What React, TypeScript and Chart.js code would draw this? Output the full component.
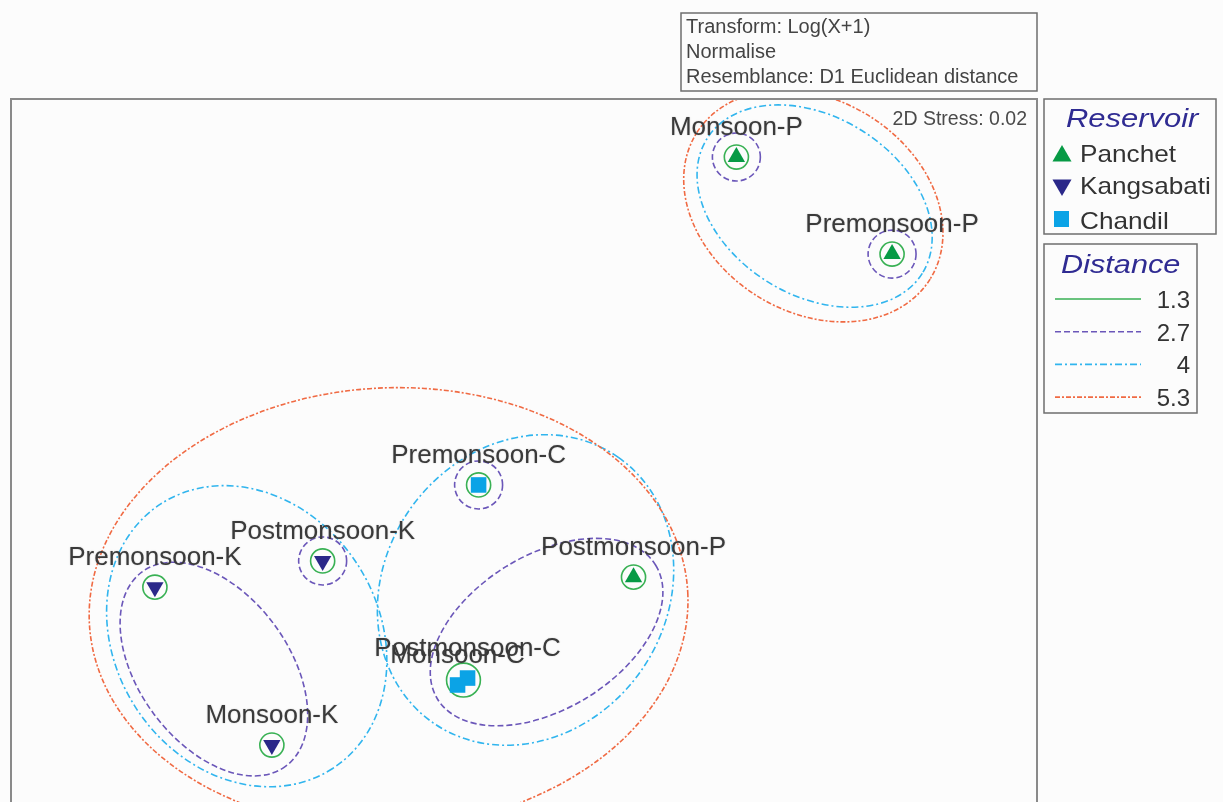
import React, { useEffect, useRef } from 'react';
import { Chart, registerables } from 'chart.js';

Chart.register(...registerables);

// ---------- data (NMDS coordinates) ----------
const reservoirNames = ['Panchet', 'Kangsabati', 'Chandil'];

const panchetLabels = ['Monsoon-P', 'Premonsoon-P', 'Postmonsoon-P'];
const panchetX = [0.828, 1.435, 0.427];
const panchetY = [1.174, 0.796, -0.462];

const kangsabatiLabels = ['Premonsoon-K', 'Postmonsoon-K', 'Monsoon-K'];
const kangsabatiX = [-1.439, -0.785, -0.983];
const kangsabatiY = [-0.501, -0.399, -1.116];

const chandilLabels = ['Premonsoon-C', 'Postmonsoon-C', 'Monsoon-C'];
const chandilX = [-0.177, -0.22, -0.259];
const chandilY = [-0.103, -0.855, -0.882];

const distanceLevels = [1.3, 2.7, 4, 5.3];
const distanceLabels = ['1.3', '2.7', '4', '5.3'];

// cluster contours (data units): level, centre, semi-axes, angle (deg, ccw)
const contourLevel = [1.3, 1.3, 1.3, 1.3, 1.3, 1.3, 1.3, 1.3, 2.7, 2.7, 2.7, 2.7, 2.7, 2.7, 4, 4, 4, 5.3, 5.3];
const contourX = [0.828, 1.435, 0.427, -1.439, -0.785, -0.983, -0.177, -0.236, 0.828, 1.435, -0.177, -0.785, -1.209, 0.088, 1.133, -1.081, 0.006, 1.128, -0.528];
const contourY = [1.174, 0.796, -0.462, -0.501, -0.399, -1.116, -0.103, -0.863, 1.174, 0.796, -0.103, -0.399, -0.82, -0.676, 0.983, -0.692, -0.512, 0.983, -0.582];
const contourRx = [0.047, 0.047, 0.047, 0.047, 0.047, 0.047, 0.047, 0.066, 0.0935, 0.0935, 0.0935, 0.0935, 0.471, 0.499, 0.495, 0.615, 0.631, 0.537, 1.168];
const contourRy = [0.047, 0.047, 0.047, 0.047, 0.047, 0.047, 0.047, 0.066, 0.0935, 0.0935, 0.0935, 0.0935, 0.292, 0.3, 0.347, 0.514, 0.549, 0.413, 0.857];
const contourAngle = [0, 0, 0, 0, 0, 0, 0, 0, 0, 0, 0, 0, -53.5, 31.5, -32, -57, 55, -32, 3];

const xRange = [-2, 2];
const yRange = [-1.4, 1.4];

const stressText = '2D Stress: 0.02';
const transformLines = ['Transform: Log(X+1)', 'Normalise', 'Resemblance: D1 Euclidean distance'];

// ---------- styles ----------
const FONT = "'Liberation Sans', Arial, sans-serif";
const reservoirColors = ['#079a45', '#2b2889', '#0ba3e6'];
const levelColors = ['#39b154', '#6b57b9', '#31b5ee', '#f06a43'];
const levelDash: number[][] = [[], [6, 3], [7, 3, 2, 3], [5, 2, 2, 2]];
const W = 1223;
const H = 840;

function drawTriangle(ctx: CanvasRenderingContext2D, x: number, y: number, r: number, down: boolean) {
  ctx.beginPath();
  const s = down ? -1 : 1;
  ctx.moveTo(x, y - s * r);
  ctx.lineTo(x + r * 0.866, y + s * r * 0.5);
  ctx.lineTo(x - r * 0.866, y + s * r * 0.5);
  ctx.closePath();
  ctx.fill();
}

function stretchText(ctx: CanvasRenderingContext2D, text: string, x: number, y: number, sx: number) {
  ctx.save();
  ctx.translate(x, y);
  ctx.scale(sx, 1);
  ctx.fillText(text, 0, 0);
  ctx.restore();
}

const contourPlugin = {
  id: 'contours',
  beforeDatasetsDraw(chart: any) {
    const { ctx, chartArea, scales } = chart;
    const xs = scales.x;
    const ys = scales.y;
    ctx.save();
    ctx.beginPath();
    ctx.rect(chartArea.left, chartArea.top, chartArea.right - chartArea.left, chartArea.bottom - chartArea.top);
    ctx.clip();
    for (let i = 0; i < contourLevel.length; i++) {
      const cx = xs.getPixelForValue(contourX[i]);
      const cy = ys.getPixelForValue(contourY[i]);
      const rx = Math.abs(xs.getPixelForValue(contourX[i] + contourRx[i]) - cx);
      const ry = Math.abs(ys.getPixelForValue(contourY[i] + contourRy[i]) - cy);
      const li = distanceLevels.indexOf(contourLevel[i]);
      ctx.strokeStyle = levelColors[li];
      ctx.setLineDash(levelDash[li]);
      ctx.lineWidth = 1.6;
      ctx.beginPath();
      ctx.ellipse(cx, cy, rx, ry, (-contourAngle[i] * Math.PI) / 180, 0, Math.PI * 2);
      ctx.stroke();
    }
    ctx.restore();
  },
  afterDatasetsDraw(chart: any) {
    const { ctx } = chart;
    const labelSets = [panchetLabels, kangsabatiLabels, chandilLabels];
    ctx.save();
    ctx.font = `26px ${FONT}`;
    ctx.fillStyle = '#3a3a3a';
    ctx.textAlign = 'center';
    ctx.textBaseline = 'alphabetic';
    ctx.shadowColor = 'rgba(0,0,0,0.25)';
    ctx.shadowBlur = 1.5;
    labelSets.forEach((labels, di) => {
      const meta = chart.getDatasetMeta(di);
      labels.forEach((lab, i) => {
        const el = meta.data[i];
        ctx.fillText(lab, el.x, el.y - 22);
      });
    });
    ctx.restore();
  },
  afterDraw(chart: any) {
    const { ctx, chartArea } = chart;
    ctx.save();
    // plot frame
    ctx.strokeStyle = '#8a8a8a';
    ctx.lineWidth = 2;
    ctx.setLineDash([]);
    ctx.strokeRect(chartArea.left, chartArea.top, chartArea.right - chartArea.left, chartArea.bottom - chartArea.top);

    // stress
    ctx.font = `19.5px ${FONT}`;
    ctx.fillStyle = '#4a4a4a';
    ctx.textAlign = 'right';
    ctx.textBaseline = 'alphabetic';
    ctx.fillText(stressText, chartArea.right - 10, chartArea.top + 26);

    // transform box
    ctx.strokeStyle = '#6e6e6e';
    ctx.lineWidth = 1.5;
    ctx.strokeRect(681, 13, 356, 78);
    ctx.font = `20px ${FONT}`;
    ctx.fillStyle = '#444';
    ctx.textAlign = 'left';
    transformLines.forEach((t, i) => ctx.fillText(t, 686, 33 + i * 25));

    // Reservoir legend
    ctx.strokeStyle = '#6e6e6e';
    ctx.strokeRect(1044, 99, 172, 135);
    ctx.font = `italic 26px ${FONT}`;
    ctx.fillStyle = '#2f2b92';
    stretchText(ctx, 'Reservoir', 1066, 127, 1.19);
    ctx.font = `24px ${FONT}`;
    reservoirNames.forEach((n, i) => {
      const cy = 155 + i * 32;
      ctx.fillStyle = reservoirColors[i];
      if (i === 0) drawTriangle(ctx, 1062, cy + 1, 11, false);
      else if (i === 1) drawTriangle(ctx, 1062, cy - 2, 11, true);
      else ctx.fillRect(1054, cy - 8, 15, 16);
      ctx.fillStyle = '#333';
      stretchText(ctx, n, 1080, cy + 7 + (i === 2 ? 3 : 0), 1.09);
    });

    // Distance legend
    ctx.strokeStyle = '#6e6e6e';
    ctx.lineWidth = 1.5;
    ctx.strokeRect(1044, 244, 153, 169);
    ctx.font = `italic 26px ${FONT}`;
    ctx.fillStyle = '#2f2b92';
    stretchText(ctx, 'Distance', 1061, 273, 1.18);
    distanceLabels.forEach((d, i) => {
      const ly = 299 + i * 32.7;
      ctx.strokeStyle = levelColors[i];
      ctx.setLineDash(levelDash[i]);
      ctx.lineWidth = 1.6;
      ctx.beginPath();
      ctx.moveTo(1055, ly);
      ctx.lineTo(1141, ly);
      ctx.stroke();
      ctx.setLineDash([]);
      ctx.font = `24px ${FONT}`;
      ctx.fillStyle = '#333';
      ctx.textAlign = 'right';
      ctx.fillText(d, 1190, ly + 9);
      ctx.textAlign = 'left';
    });
    ctx.restore();
  },
};

export default function App() {
  const ref = useRef<HTMLCanvasElement | null>(null);

  useEffect(() => {
    if (!ref.current) return;
    const toPts = (xs: number[], ys: number[]) => xs.map((x, i) => ({ x, y: ys[i] }));
    const chart = new Chart(ref.current, {
      type: 'scatter',
      data: {
        datasets: [
          {
            label: reservoirNames[0],
            data: toPts(panchetX, panchetY),
            pointStyle: 'triangle',
            pointRadius: 10,
            pointRotation: 0,
            backgroundColor: reservoirColors[0],
            borderColor: reservoirColors[0],
            pointBorderWidth: 0,
          } as any,
          {
            label: reservoirNames[1],
            data: toPts(kangsabatiX, kangsabatiY),
            pointStyle: 'triangle',
            pointRadius: 10,
            pointRotation: 180,
            backgroundColor: reservoirColors[1],
            borderColor: reservoirColors[1],
            pointBorderWidth: 0,
          } as any,
          {
            label: reservoirNames[2],
            data: toPts(chandilX, chandilY),
            pointStyle: 'rect',
            pointRadius: 11,
            backgroundColor: reservoirColors[2],
            borderColor: reservoirColors[2],
            pointBorderWidth: 0,
          } as any,
        ],
      },
      options: {
        responsive: false,
        animation: false,
        devicePixelRatio: 1,
        events: [],
        layout: { padding: { left: 10, right: W - 1037, top: 99, bottom: H - 818 } },
        scales: {
          x: { type: 'linear', min: xRange[0], max: xRange[1], display: false },
          y: { type: 'linear', min: yRange[0], max: yRange[1], display: false },
        },
        plugins: {
          legend: { display: false },
          tooltip: { enabled: false },
          title: { display: false },
        },
      },
      plugins: [contourPlugin],
    });
    return () => chart.destroy();
  }, []);

  return (
    <div
      style={{
        position: 'fixed',
        left: 0,
        top: 0,
        width: W,
        height: 802,
        overflow: 'hidden',
        background: '#fcfcfc',
      }}
    >
      <canvas ref={ref} width={W} height={H} style={{ width: W, height: H, display: 'block' }} />
    </div>
  );
}
